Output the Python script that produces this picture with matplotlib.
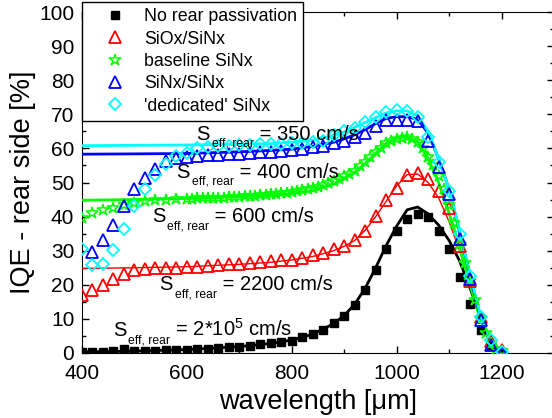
import numpy as np
import matplotlib
matplotlib.use("Agg")
import matplotlib.pyplot as plt
from matplotlib.ticker import MultipleLocator

plt.rcParams['font.family'] = ['Liberation Sans', 'DejaVu Sans']
plt.rcParams['mathtext.fontset'] = 'custom'
plt.rcParams['mathtext.rm'] = 'Liberation Sans'
plt.rcParams['mathtext.it'] = 'Liberation Sans'
plt.rcParams['mathtext.default'] = 'regular'

# measured points, 20 nm steps
wl = np.arange(400, 1201, 20)
wl_blue = np.arange(420, 1201, 20)
# baseline SiNx was measured finer above 600 nm
wl_base = np.concatenate([np.arange(400, 600, 20), np.arange(600, 1201, 10)])

iqe_none = [0.4, 0.4, 0.4, 0.6, 1.2, 0.6, 0.6, 0.6, 0.8, 0.9, 1.0, 1.1, 1.2, 1.5,
            1.7, 1.9, 2.1, 2.5, 2.8, 3.1, 3.6, 4.6, 5.6, 6.7, 8.7, 10.8, 14.0, 18.4,
            24.3, 30.6, 35.9, 39.4, 40.8, 39.8, 35.8, 30.6, 22.4, 14.3, 6.7, 2.0, 0.3]
iqe_siox = [17.0, 18.4, 19.9, 21.8, 23.3, 24.2, 24.6, 24.8, 24.8, 25.0, 25.2, 25.3,
            25.6, 25.8, 26.0, 26.2, 26.5, 26.7, 27.0, 27.2, 27.2, 28.0, 28.6, 29.2,
            30.4, 31.5, 33.2, 35.8, 40.3, 45.0, 48.3, 52.1, 52.8, 51.1, 47.5, 42.5,
            31.5, 21.0, 10.5, 3.5, 0.8]
iqe_base = [39.5, 41.0, 41.8, 42.5, 43.3, 44.0, 44.5, 44.8, 45.0, 45.2,
            45.3, 45.3, 45.4, 45.4, 45.5, 45.5, 45.6, 45.6, 45.7, 45.7,
            45.8, 45.9, 46.0, 46.1, 46.2, 46.3, 46.5, 46.6, 46.8, 47.0,
            47.2, 47.5, 47.8, 48.1, 48.5, 48.8, 49.2, 49.8, 50.5, 51.1,
            51.8, 52.6, 53.5, 54.7, 56.0, 57.4, 58.8, 60.2, 61.5, 62.3,
            62.8, 63.1, 63.2, 62.8, 62.0, 60.0, 57.5, 55.0, 52.0, 48.0,
            43.5, 38.0, 32.0, 26.5, 21.0, 15.5, 10.3, 6.0, 2.8, 1.2, 0.5]
iqe_sinx = [29.5, 33.0, 37.6, 43.0, 48.2, 51.3, 54.0, 56.3, 57.2, 57.5, 57.8, 58.0,
            58.2, 58.3, 58.4, 58.6, 58.8, 59.0, 59.2, 59.4, 59.8, 60.3, 60.8, 61.5,
            62.3, 63.2, 64.5, 66.5, 68.3, 68.3, 68.3, 68.0, 62.3, 54.5, 46.7, 33.5,
            21.8, 9.6, 2.3, 0.2]
iqe_ded = [30.6, 25.7, 26.2, 30.3, 36.4, 43.2, 48.1, 52.2, 55.5, 57.8, 58.7, 60.0,
           60.4, 60.6, 60.8, 61.0, 61.1, 61.2, 61.3, 61.4, 61.5, 61.6, 61.8, 62.2,
           63.8, 65.0, 66.0, 67.8, 69.2, 70.6, 71.4, 71.0, 69.2, 63.4, 56.1, 47.5,
           35.0, 22.5, 10.5, 3.8, 0.2]

# simulated curves
wl_fit = np.array([400, 500, 600, 700, 760, 800, 840, 880, 900, 920, 940, 960, 980,
                   1000, 1020, 1040, 1060, 1080, 1100, 1120, 1140, 1160, 1180, 1200])
fit_none = [0.3, 0.55, 1.0, 1.9, 2.8, 3.8, 5.5, 8.6, 11.0, 14.3, 19.0, 25.0, 31.5,
            37.2, 42.0, 42.8, 40.8, 37.5, 33.0, 27.0, 19.0, 10.5, 3.0, 0.3]
fit_siox = [24.8, 25.0, 25.3, 26.0, 26.6, 27.3, 28.3, 30.0, 31.3, 33.0, 36.0, 40.0,
            44.5, 49.0, 52.3, 52.5, 50.0, 45.5, 38.5, 30.0, 20.5, 10.5, 3.5, 0.5]
fit_base = [44.8, 45.0, 45.3, 45.8, 46.3, 46.8, 47.6, 49.5, 51.0, 53.0, 55.5, 58.5,
            61.5, 63.0, 63.5, 62.0, 57.0, 50.0, 41.0, 31.0, 20.0, 9.5, 2.5, 0.0]
fit_sinx = [58.3, 58.4, 58.5, 59.0, 59.4, 59.8, 60.6, 61.8, 62.8, 64.0, 65.5, 67.3,
            68.8, 69.3, 69.3, 68.5, 64.5, 57.0, 48.0, 35.5, 22.5, 10.5, 3.0, 0.0]
fit_ded = [60.8, 60.9, 61.0, 61.2, 61.4, 61.8, 62.4, 63.8, 64.8, 66.2, 67.6, 69.0,
           70.4, 71.0, 71.0, 69.5, 65.0, 57.0, 48.0, 36.0, 23.0, 11.0, 3.0, 0.0]

labels = ["No rear passivation", "SiOx/SiNx", "baseline SiNx", "SiNx/SiNx",
          "'dedicated' SiNx"]
s_eff = ["2*10$^{5}$", "2200", "600", "400", "350"]
s_pos = [(459, 4.9), (547, 18.4), (533, 38.3), (580, 51.4), (618, 62.6)]

fig = plt.figure(figsize=(5.52, 4.18), dpi=100)
ax = fig.add_axes([82 / 552, 65 / 418, 472 / 552, 341 / 418])

green = '#00ff00'
blue = '#0000ff'
cyan = '#00ffff'

ax.plot(wl_fit, fit_none, color='black', lw=2.0, zorder=3)
ax.plot(wl_fit, fit_siox, color='red', lw=1.0, zorder=3)
ax.plot(wl_fit, fit_base, color=green, lw=2.0, zorder=3)
ax.plot(wl_fit, fit_sinx, color=blue, lw=2.0, zorder=3)
ax.plot(wl_fit, fit_ded, color=cyan, lw=2.0, zorder=3)

ax.plot(wl, iqe_none, ls='none', marker='s', ms=5.5, color='black',
        label=labels[0], zorder=4)
ax.plot(wl, iqe_siox, ls='none', marker='^', ms=8, mfc='none', mew=1.3,
        color='red', label=labels[1], zorder=4)
ax.plot(wl_base, iqe_base, ls='none', marker='*', ms=9, mfc='none', mew=1.1,
        color=green, label=labels[2], zorder=4)
ax.plot(wl_blue, iqe_sinx, ls='none', marker='^', ms=8, mfc='none', mew=1.3,
        color=blue, label=labels[3], zorder=4)
ax.plot(wl, iqe_ded, ls='none', marker='D', ms=6.5, mfc='none', mew=1.3,
        color=cyan, label=labels[4], zorder=5)

ax.set_xlim(400, 1300)
ax.set_ylim(0, 100)
ax.xaxis.set_major_locator(MultipleLocator(200))
ax.xaxis.set_minor_locator(MultipleLocator(100))
ax.yaxis.set_major_locator(MultipleLocator(10))
ax.yaxis.set_minor_locator(MultipleLocator(5))
ax.tick_params(which='both', direction='in', top=True, right=True, labelsize=15)
ax.tick_params(which='major', length=5, width=1)
ax.tick_params(which='minor', length=3, width=1)
ax.tick_params(axis='x', pad=8)
ax.tick_params(axis='y', pad=5.5)
ax.set_xlabel('wavelength [\u03bcm]', fontsize=19.5, labelpad=4)
ax.set_ylabel('IQE - rear side [%]', fontsize=19.5, labelpad=2)

# S_eff labels: big "S", lowered small subscript, then the value
renderer = fig.canvas.get_renderer()
to_pt = 72.0 / fig.dpi
for val, (x, y) in zip(s_eff, s_pos):
    t1 = ax.text(x, y, 'S', fontsize=14.5, va='baseline', zorder=6)
    w1 = t1.get_window_extent(renderer).width * to_pt
    t2 = ax.annotate('eff, rear', (x, y), xytext=(w1 + 1.5, -5),
                     textcoords='offset points', fontsize=8.7, va='baseline',
                     zorder=6)
    w2 = t2.get_window_extent(renderer).width * to_pt
    ax.annotate(' = ' + val + ' cm/s', (x, y), xytext=(w1 + w2 + 1.5, 0),
                textcoords='offset points', fontsize=14.5, va='baseline',
                zorder=6)

leg = ax.legend(loc='upper left', bbox_to_anchor=(82 / 552, 1 - 2 / 418),
                bbox_transform=fig.transFigure, borderaxespad=0, fontsize=12.8,
                fancybox=False, framealpha=1, edgecolor='black',
                handlelength=3.0, handletextpad=0.15, labelspacing=0.3,
                borderpad=0.35, numpoints=1)
leg.get_frame().set_linewidth(1.0)
leg.set_zorder(10)

fig.savefig('out.png', dpi=100)
